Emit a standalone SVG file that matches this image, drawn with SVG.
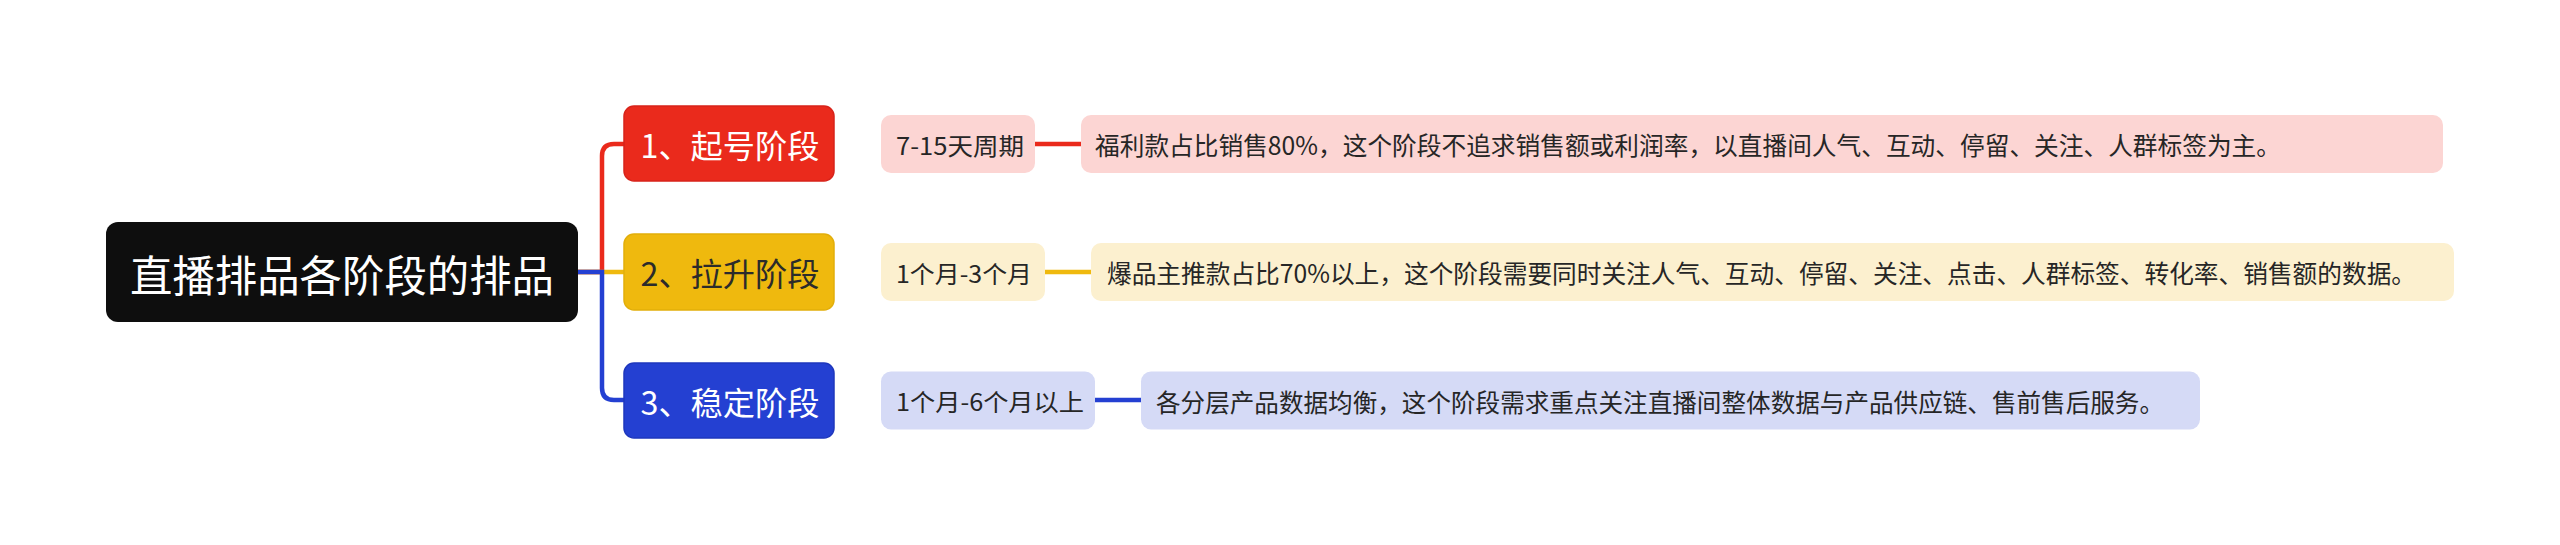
<svg xmlns="http://www.w3.org/2000/svg" width="2560" height="545" viewBox="0 0 2560 545">
<style>
text{font-family:"Microsoft YaHei","Noto Sans CJK SC","Noto Sans",sans-serif;dominant-baseline:central}
.root{fill:#0E0E0E}
.rt{fill:#fff;font-size:43px;text-anchor:middle}
.l1t{font-size:32px;text-anchor:middle}
.l2t,.l3t{fill:#262626}
.l2t{font-size:24px}
.l3t{font-size:25px}
.ln{fill:none;stroke-width:4.5;stroke-linecap:butt}
.red{stroke:#EA2A1C}.yel{stroke:#EFB90E}.blu{stroke:#2440D2}
</style>
<rect width="2560" height="545" fill="#fff"/>
<g id="connectors">
<path class="ln red" d="M578,272 H602 V156 Q602,144 614,144 H624"/>
<path class="ln yel" d="M578,272 H624"/>
<path class="ln blu" d="M578,272 H602 V388 Q602,400 614,400 H624"/>
<path class="ln red" d="M1035,144 H1081"/>
<path class="ln yel" d="M1045,272 H1091"/>
<path class="ln blu" d="M1095,400 H1141"/>
</g>
<g id="root">
<rect class="root" x="106" y="222" width="472" height="100" rx="12"/>
<text class="rt" x="342" y="273" textLength="424" lengthAdjust="spacingAndGlyphs">直播排品各阶段的排品</text>
</g>
<g id="stage1">
<rect x="624" y="106" width="210" height="75" rx="10" fill="#EA2A1C" stroke="#D8231A" stroke-width="1.5"/>
<text class="l1t" x="730" y="144" fill="#fff" textLength="179" lengthAdjust="spacingAndGlyphs">1、起号阶段</text>
</g>
<g id="stage2">
<rect x="624" y="234" width="210" height="76" rx="10" fill="#EFB90E" stroke="#E2AE0A" stroke-width="1.5"/>
<text class="l1t" x="730" y="272" fill="#2b2b2b" textLength="179" lengthAdjust="spacingAndGlyphs">2、拉升阶段</text>
</g>
<g id="stage3">
<rect x="624" y="363" width="210" height="75" rx="10" fill="#2440D2" stroke="#1E37BD" stroke-width="1.5"/>
<text class="l1t" x="730" y="401" fill="#fff" textLength="179" lengthAdjust="spacingAndGlyphs">3、稳定阶段</text>
</g>
<g id="period1">
<rect x="881" y="115" width="154" height="58" rx="10" fill="#FCD5D3"/>
<text class="l2t" x="896" y="144" textLength="128" lengthAdjust="spacingAndGlyphs">7-15天周期</text>
</g>
<g id="period2">
<rect x="881" y="243" width="164" height="58" rx="10" fill="#FCF0CF"/>
<text class="l2t" x="896" y="272" textLength="136" lengthAdjust="spacingAndGlyphs">1个月-3个月</text>
</g>
<g id="period3">
<rect x="881" y="371.5" width="214" height="58" rx="10" fill="#D5DAF6"/>
<text class="l2t" x="896" y="400.5" textLength="188" lengthAdjust="spacingAndGlyphs">1个月-6个月以上</text>
</g>
<g id="desc1">
<rect x="1081" y="115" width="1362" height="58" rx="10" fill="#FCD5D3"/>
<text class="l3t" x="1095" y="144" textLength="1186" lengthAdjust="spacingAndGlyphs">福利款占比销售80%，这个阶段不追求销售额或利润率，以直播间人气、互动、停留、关注、人群标签为主。</text>
</g>
<g id="desc2">
<rect x="1091" y="243" width="1363" height="58" rx="10" fill="#FCF0CF"/>
<text class="l3t" x="1107" y="272" textLength="1309" lengthAdjust="spacingAndGlyphs">爆品主推款占比70%以上，这个阶段需要同时关注人气、互动、停留、关注、点击、人群标签、转化率、销售额的数据。</text>
</g>
<g id="desc3">
<rect x="1141" y="371.5" width="1059" height="58" rx="10" fill="#D5DAF6"/>
<text class="l3t" x="1156" y="400.5" textLength="1008" lengthAdjust="spacingAndGlyphs">各分层产品数据均衡，这个阶段需求重点关注直播间整体数据与产品供应链、售前售后服务。</text>
</g>
</svg>
